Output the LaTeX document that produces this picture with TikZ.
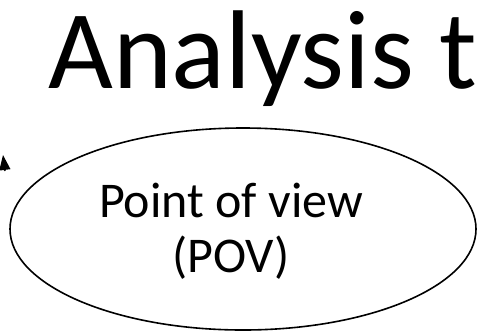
\documentclass[tikz,border=0pt]{standalone}
\usepackage{fontspec}
\setmainfont{Carlito}
\usepackage{tikz}
\usetikzlibrary{shapes.geometric, arrows.meta, positioning}
\definecolor{mydark}{RGB}{0,0,0}
\tikzset{
  titletext/.style={font=\fontsize{112}{130}\selectfont, inner sep=0pt, color=mydark},
  povbox/.style={ellipse, draw=mydark, line width=1.6pt,
    minimum width=466pt, minimum height=202pt, inner sep=0pt},
  povtext/.style={align=center, font=\fontsize{50}{55}\selectfont,
    inner sep=0pt, color=mydark},
  arrow/.style={-{Triangle[length=15pt, width=11pt]}, line width=1.4pt, color=mydark}
}

\begin{document}
\begin{tikzpicture}[x=1pt, y=-1pt]
  \useasboundingbox (0,0) rectangle (481,333);
  \clip (0,0) rectangle (481,333);

  % Heading
  \node[titletext, anchor=base west] (title) at (48,88) {Analysis t};

  % Point of view bubble
  \node[povbox] (pov) at (243,229) {};
  \node[povtext, anchor=base] (povlabel) at (231,272) {Point of view\\(POV)};

  % Arrow tip at the left edge
  \coordinate (arrfrom) at (5,171);
  \coordinate (arrto) at (3,155);
  \draw[arrow] (arrfrom) -- (arrto);
\end{tikzpicture}
\end{document}
